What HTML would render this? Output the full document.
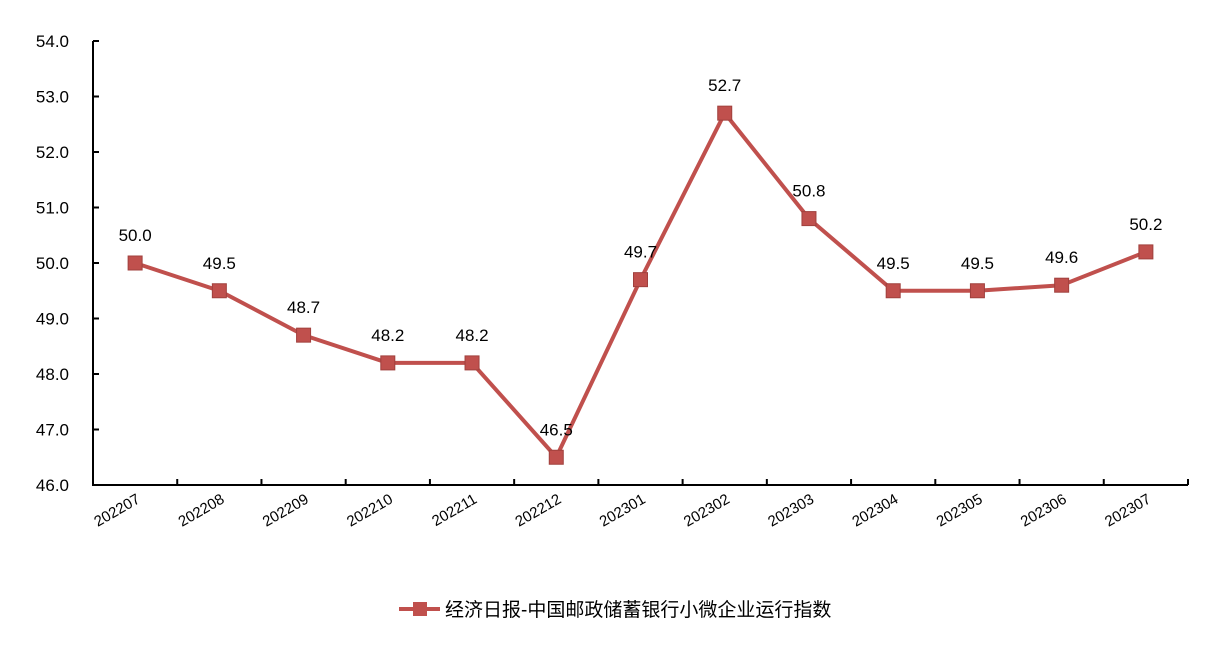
<!DOCTYPE html>
<html><head><meta charset="utf-8"><style>
body{margin:0;background:#fff;}
svg text{font-family:"Liberation Sans","Noto Sans CJK SC",sans-serif;}
</style></head><body>
<svg id="c" width="1223" height="644"></svg>
<script>
const categories=["202207","202208","202209","202210","202211","202212","202301","202302","202303","202304","202305","202306","202307"];
const values=[50.0,49.5,48.7,48.2,48.2,46.5,49.7,52.7,50.8,49.5,49.5,49.6,50.2];
const yTicks=[46,47,48,49,50,51,52,53,54];
const seriesName="经济日报-中国邮政储蓄银行小微企业运行指数";
const NS="http://www.w3.org/2000/svg";
const svg=document.getElementById('c');
const X0=93,X1=1188,Y0=485,Y1=41,yMin=46,yMax=54;
const bw=(X1-X0)/categories.length;
const x=i=>X0+bw*(i+0.5);
const y=v=>Y0-(v-yMin)/(yMax-yMin)*(Y0-Y1);
function mk(t,a,p){const e=document.createElementNS(NS,t);for(const k in a)e.setAttribute(k,a[k]);(p||svg).appendChild(e);return e;}
const axY=mk('line',{x1:X0,y1:Y1,x2:X0,y2:Y0,stroke:'#000','stroke-width':2});


const axX=mk('line',{x1:X0-1,y1:Y0,x2:X1,y2:Y0,stroke:'#000','stroke-width':2});


yTicks.forEach(v=>{
 const t=mk('line',{x1:X0,y1:y(v),x2:X0+6,y2:y(v),stroke:'#000','stroke-width':2});
 
 
 const l=mk('text',{x:69,y:y(v)+6,'text-anchor':'end','font-size':17});
 l.textContent=v.toFixed(1);
 
 
});
for(let i=1;i<=categories.length;i++){
 const t=mk('line',{x1:X0+bw*i,y1:Y0,x2:X0+bw*i,y2:Y0-6,stroke:'#000','stroke-width':2});
 
 
}
categories.forEach((c,i)=>{
 const l=mk('text',{x:x(i)+6,y:Y0+17,'text-anchor':'end','font-size':15,transform:`rotate(-30 ${x(i)+6} ${Y0+17})`});
 l.textContent=c;
 
 
});
const line=mk('polyline',{points:values.map((v,i)=>x(i)+','+y(v)).join(' '),fill:'none',stroke:'#c0504d','stroke-width':4,'stroke-linejoin':'round'});


values.forEach((v,i)=>{
 const m=mk('rect',{x:x(i)-7,y:y(v)-7,width:14,height:14,fill:'#c0504d',stroke:'#a0403d','stroke-width':1});
 
 
 const l=mk('text',{x:x(i),y:y(v)-22,'text-anchor':'middle','font-size':17});
 l.textContent=v.toFixed(1);
 
 
});
const g=mk('g',{});


mk('line',{x1:399,y1:609,x2:440,y2:609,stroke:'#c0504d','stroke-width':4},g);
mk('rect',{x:413,y:602,width:14,height:14,fill:'#c0504d'},g);
const lt=mk('text',{x:445,y:616,'font-size':19},g);
lt.textContent=seriesName;


</script>
</body></html>
